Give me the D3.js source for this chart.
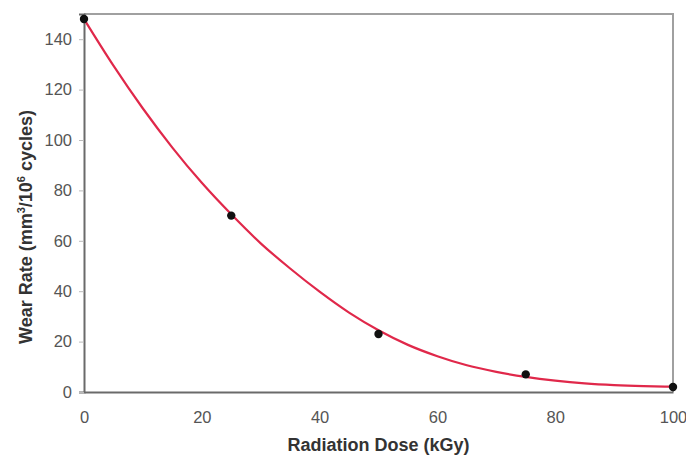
<!DOCTYPE html>
<html><head><meta charset="utf-8">
<script src="https://cdn.jsdelivr.net/npm/d3@7"></script>
<style>
html,body{margin:0;padding:0;background:#fff;}
svg{display:block;font-family:"Liberation Sans",Arial,sans-serif;}
</style></head>
<body>
<svg id="c" width="686" height="456"></svg>
<script>
// measured data points
const doseValues = [0, 25, 50, 75, 100];
const wearValues = [148, 70, 23, 7, 2];
// fitted trend curve
const curveDose = [0,5,10,15,20,25,30,35,40,45,50,55,60,65,70,75,80,85,90,95,100];
const curveWear = [148,129.5,112.5,97,83,70.5,59,49,39.8,31.5,24.5,18.7,14.2,10.6,8,6,4.5,3.4,2.7,2.3,2.1];
const xTicks = [0,20,40,60,80,100];
const yTicks = [0,20,40,60,80,100,120,140];

const svg = d3.select("#c");
const L = 84, R = 673, T = 14, B = 392;
const x = d3.scaleLinear().domain([0,100]).range([L,R]);
const y = d3.scaleLinear().domain([0,150]).range([B,T]);

// frame (top & right)
svg.append("path").attr("d",`M${L},${T}H${R}V${B}`).attr("fill","none").attr("stroke","#a0a0a0").attr("stroke-width",2);

const xa = svg.append("g").attr("transform",`translate(0,${B})`)
  .call(d3.axisBottom(x).tickValues(xTicks).tickSize(0).tickPadding(19).tickFormat(d3.format("d")));
const ya = svg.append("g").attr("transform",`translate(${L},0)`)
  .call(d3.axisLeft(y).tickValues(yTicks).tickSize(5).tickPadding(7).tickFormat(d3.format("d")));
[xa,ya].forEach(a=>{
  a.select(".domain").attr("stroke","#6a6a6a").attr("stroke-width",2);
  a.selectAll(".tick line").attr("stroke","#bbb");
  a.selectAll("text").attr("fill","#555").style("font-size","16.5px").style("font-family","'Liberation Sans',Arial,sans-serif");
});

const line = d3.line().x((d,i)=>x(curveDose[i])).y(d=>y(d)).curve(d3.curveMonotoneX);
svg.append("path").datum(curveWear).attr("d",line).attr("fill","none")
  .attr("stroke","#e0284a").attr("stroke-width",2.2);

svg.selectAll("circle.pt").data(wearValues).enter().append("circle")
  .attr("class","pt").attr("cx",(d,i)=>x(doseValues[i])).attr("cy",d=>y(d)).attr("r",4.2).attr("fill","#111");

svg.append("text").attr("x",(L+R)/2).attr("y",451).attr("text-anchor","middle")
  .attr("font-weight","bold").attr("font-size",18).attr("fill","#333").text("Radiation Dose (kGy)");

const yt = svg.append("text").attr("transform",`translate(32,227) rotate(-90)`).attr("text-anchor","middle")
  .attr("font-weight","bold").attr("font-size",18).attr("fill","#333");
yt.append("tspan").text("Wear Rate (mm");
yt.append("tspan").attr("dy",-7).attr("font-size",11).text("3");
yt.append("tspan").attr("dy",7).text("/10");
yt.append("tspan").attr("dy",-7).attr("font-size",11).text("6");
yt.append("tspan").attr("dy",7).text(" cycles)");
</script>
</body></html>
